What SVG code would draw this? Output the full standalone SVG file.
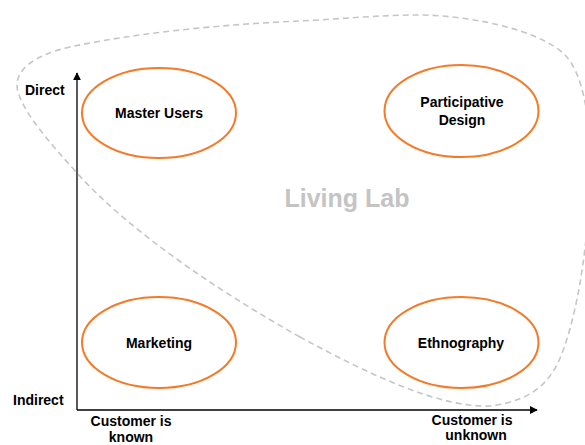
<svg xmlns="http://www.w3.org/2000/svg" width="585" height="445" viewBox="0 0 585 445">
<style>
.t{font-family:"Liberation Sans",Arial,sans-serif;font-weight:bold;font-size:14px;fill:#000;}
.c{text-anchor:middle;}
.e{fill:none;stroke:#f47a28;stroke-width:2;}
.ax{stroke:#000;stroke-width:1.3;fill:none;}
</style>
<defs>
<marker id="ah" viewBox="0 0 10 10" refX="9" refY="5" markerWidth="8" markerHeight="8" markerUnits="userSpaceOnUse" orient="auto">
<path d="M0,0 L10,5 L0,10 Z" fill="#000"/>
</marker>
</defs>
<rect width="585" height="445" fill="#fff"/>
<g id="living-lab">
<path d="M 300,337 C 220,292 130,232 77,173 C 50,143 25,115 18,92 C 12,70 35,55 70,47 C 140,32 230,24 300,21 C 340,19 380,15 417,15 C 470,15 540,30 565,55 C 580,70 592,110 590,180 C 588,240 580,300 565,345 C 555,375 540,400 490,406 C 440,408 370,375 300,337 Z" fill="none" stroke="#c6c6c6" stroke-width="1.6" stroke-dasharray="6 4"/>
<text x="347" y="207" class="t c" style="font-size:25px;fill:#c4c4c4">Living Lab</text>
</g>
<g id="connectors">
<line class="ax" x1="77" y1="410" x2="77" y2="73" marker-end="url(#ah)"/>
<line class="ax" x1="77" y1="410" x2="537" y2="410" marker-end="url(#ah)"/>
</g>
<g id="axis-labels">
<text x="25" y="95" class="t">Direct</text>
<text x="13" y="405" class="t">Indirect</text>
<text x="131" y="426" class="t c">Customer is</text>
<text x="131" y="442" class="t c">known</text>
<text x="472" y="425" class="t c">Customer is</text>
<text x="476" y="440" class="t c">unknown</text>
</g>
<g id="master-users">
<ellipse class="e" cx="159" cy="113" rx="77" ry="45"/>
<text x="159" y="118" class="t c">Master Users</text>
</g>
<g id="participative-design">
<ellipse class="e" cx="461.5" cy="111" rx="77" ry="46"/>
<text x="462" y="107" class="t c">Participative</text>
<text x="462" y="125" class="t c">Design</text>
</g>
<g id="marketing">
<ellipse class="e" cx="159" cy="342.5" rx="77" ry="45.5"/>
<text x="159" y="348" class="t c">Marketing</text>
</g>
<g id="ethnography">
<ellipse class="e" cx="461.5" cy="342.5" rx="77" ry="45.5"/>
<text x="461" y="348" class="t c">Ethnography</text>
</g>
</svg>
